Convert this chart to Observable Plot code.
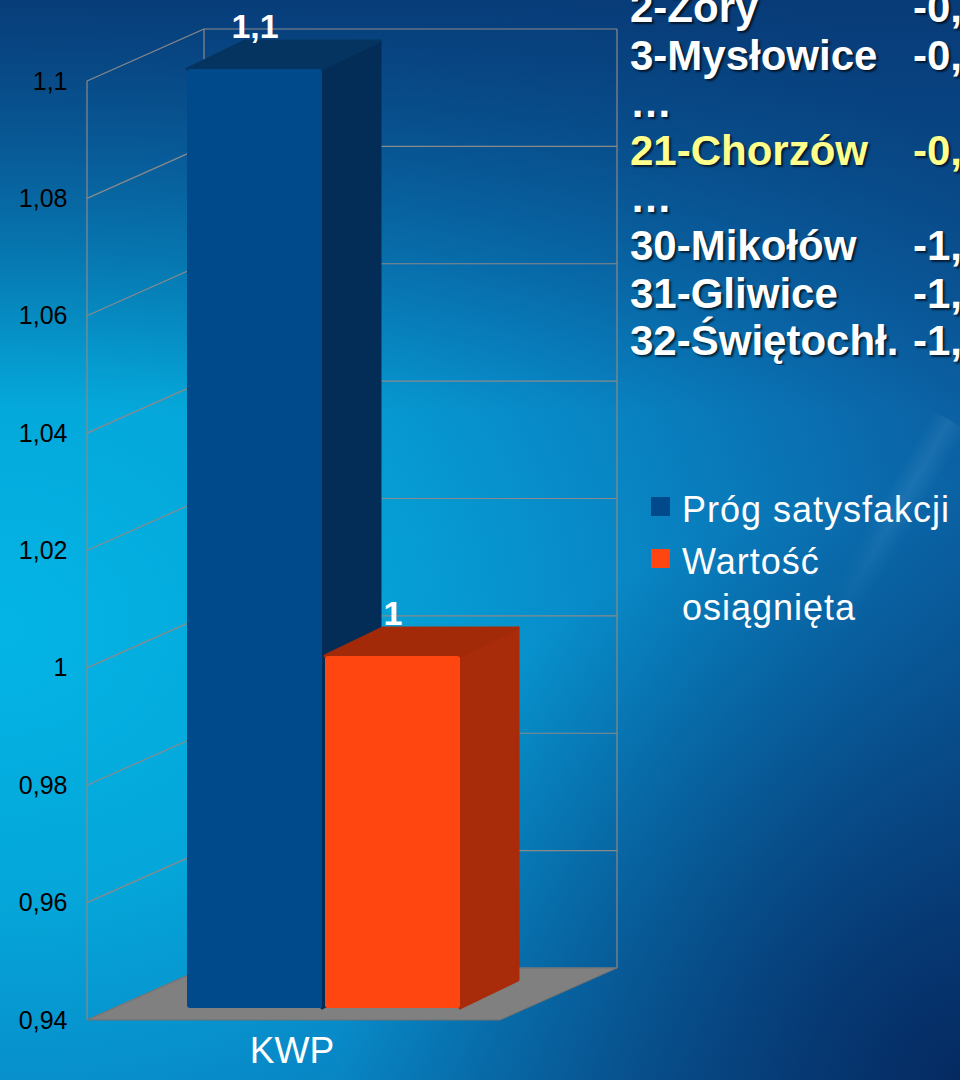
<!DOCTYPE html>
<html>
<head>
<meta charset="utf-8">
<script src="https://cdn.jsdelivr.net/npm/d3@7"></script>
<script src="https://cdn.jsdelivr.net/npm/@observablehq/plot@0.6"></script>
<style>
  html, body { margin: 0; padding: 0; }
  body {
    width: 960px; height: 1080px; overflow: hidden; position: relative;
    font-family: "Liberation Sans", Arial, sans-serif;
    background:
      radial-gradient(ellipse 65% 55% at 100% 100%, rgba(4,34,88,0.85) 0%, rgba(4,34,88,0) 100%),
      linear-gradient(to bottom, rgba(7,58,118,0.95) 0%, rgba(7,58,118,0) 38%),
      radial-gradient(ellipse 115% 85% at 0% 58%, #03b5e5 0%, #05a6d9 30%, #0889c7 55%, #0a6bad 80%, #0b5698 100%);
    background-color: #0b5698;
  }
  #streak {
    position: absolute; left: 820px; top: 420px; width: 40px; height: 260px;
    background: linear-gradient(to right, rgba(170,220,255,0) 0%, rgba(170,220,255,0.10) 50%, rgba(170,220,255,0) 100%);
    transform: rotate(30deg); transform-origin: 50% 0%; left: 930px;
    -webkit-mask-image: linear-gradient(to bottom, #000 0%, #000 40%, transparent 100%);
    mask-image: linear-gradient(to bottom, #000 0%, #000 40%, transparent 100%);
  }
  #chart { position: absolute; left: 0; top: 0; }
  #ranking {
    position: absolute; left: 630px; top: -16px; width: 330px; overflow: hidden;
    font: bold 42px/47.6px "Liberation Sans", Arial, sans-serif; color: #fff;
    text-shadow: 2px 2px 2px rgba(0,0,0,0.65); white-space: nowrap;
  }
  #ranking .row { position: relative; height: 47.6px; }
  #ranking .val { position: absolute; left: 283px; top: 0; }
  #ranking .hl { color: #ffff8c; }
  #legend {
    position: absolute; left: 651px; top: 487px; color: #fff;
    font: 36px/46px "Liberation Sans", Arial, sans-serif; letter-spacing: 1px;
  }
  #legend .item { position: relative; padding-left: 31px; margin-bottom: 6px; }
  #legend .sw { position: absolute; left: 0; top: 10px; width: 19px; height: 19px; }
</style>
</head>
<body>
<div id="streak"></div>
<div id="chart"></div>
<div id="ranking"></div>
<div id="legend"></div>
<script>
// ---- data ----
const category = "KWP";
const series = ["Próg satysfakcji", "Wartość osiągnięta"];
const values = [1.1, 1.0];
const valueLabels = ["1,1", "1"];
const seriesColors = ["#004a8c", "#ff4611"];
const yTicks = [0.94, 0.96, 0.98, 1.0, 1.02, 1.04, 1.06, 1.08, 1.1];
const rankNames = ["2-Żory", "3-Mysłowice", "…", "21-Chorzów", "…", "30-Mikołów", "31-Gliwice", "32-Świętochł."];
const rankValues = ["-0,", "-0,", "", "-0,", "", "-1,", "-1,", "-1,"];
const highlighted = "21-Chorzów";

// ---- styling / geometry constants ----
const topColors = ["#04345f", "#a32a09"];
const sideColors = ["#032d57", "#a82b0a"];
const wallDepth = {dx: 117, dy: -52};
const barOffset = {dx: 27, dy: -12};
const barDepth = {dx: 58, dy: -28};
const yDomain = [0.94, 1.1];

const data = series.map((s, i) => ({series: s, value: values[i], label: valueLabels[i], i}));
const fmt = d => String(+d.toFixed(2)).replace(".", ",");

function walls(index, scales, vals, dim) {
  const g = d3.create("svg:g");
  const x0 = dim.marginLeft, x1 = dim.width - dim.marginRight;
  const yb = scales.y(yDomain[0]), yt = scales.y(yDomain[1]);
  const D = wallDepth;
  const line = (a, b, c, d) => g.append("line").attr("x1", a).attr("y1", b).attr("x2", c).attr("y2", d)
      .attr("stroke", "#8a8a8a").attr("stroke-width", 1.2);
  for (const t of yTicks) {
    const y = scales.y(t);
    line(x0, y, x0 + D.dx, y + D.dy);
    line(x0 + D.dx, y + D.dy, x1 + D.dx, y + D.dy);
  }
  line(x0, yt, x0, yb);
  line(x0 + D.dx, yt + D.dy, x0 + D.dx, yb + D.dy);
  line(x1 + D.dx, yt + D.dy, x1 + D.dx, yb + D.dy);
  g.append("path")
    .attr("d", `M${x0},${yb}L${x1},${yb}L${x1 + D.dx},${yb + D.dy}L${x0 + D.dx},${yb + D.dy}Z`)
    .attr("fill", "#808080").attr("stroke", "#707070");
  return g.node();
}

function bars3d(index, scales, vals, dim) {
  const g = d3.create("svg:g");
  const bw = typeof scales.x.bandwidth === "function" ? scales.x.bandwidth() : 135;
  const B = barOffset, S = barDepth;
  data.forEach(d => {
    const xl = scales.x(d.series) + B.dx, xr = xl + bw;
    const yt = scales.y(d.value) + B.dy, yb = scales.y(yDomain[0]) + B.dy;
    g.append("path")
      .attr("d", `M${xr},${yt}L${xr + S.dx},${yt + S.dy}L${xr + S.dx},${yb + S.dy}L${xr},${yb}Z`)
      .attr("fill", sideColors[d.i]).attr("stroke", sideColors[d.i]).attr("stroke-linejoin", "round").attr("stroke-width", 3);
    g.append("path")
      .attr("d", `M${xl},${yt}L${xl + S.dx},${yt + S.dy}L${xr + S.dx},${yt + S.dy}L${xr},${yt}Z`)
      .attr("fill", topColors[d.i]).attr("stroke", topColors[d.i]).attr("stroke-linejoin", "round").attr("stroke-width", 3);
  });
  return g.node();
}

const chart = Plot.plot({
  width: 960,
  height: 1080,
  marginLeft: 87,
  marginRight: 460,
  marginTop: 81,
  marginBottom: 60,
  style: {background: "transparent", color: "black", fontFamily: "Liberation Sans, Arial, sans-serif", overflow: "visible"},
  x: {type: "band", domain: series, range: [160, 434], paddingInner: 0.02, paddingOuter: 0, axis: null},
  y: {domain: yDomain, axis: null},
  marks: [
    walls,
    Plot.axisY({ticks: yTicks, tickFormat: fmt, tickSize: 0, tickPadding: 20, fontSize: 25, fill: "black", label: null}),
    bars3d,
    Plot.barY(data, {x: "series", y1: yDomain[0], y2: "value", fill: d => seriesColors[d.i], dx: barOffset.dx, dy: barOffset.dy, rx: 3, inset: 0}),
    Plot.text(data, {x: "series", y: "value", text: "label", dx: barOffset.dx, dy: barOffset.dy - 42, fill: "white", fontSize: 34, fontWeight: "bold"}),
    Plot.text([category], {frameAnchor: "bottom", text: d => d, dy: 42, dx: -2, fill: "white", fontSize: 37})
  ]
});
document.getElementById("chart").appendChild(chart);

// ranking block
const rk = d3.select("#ranking");
rankNames.forEach((n, i) => {
  const row = rk.append("div").attr("class", "row" + (n === highlighted ? " hl" : ""));
  row.append("span").text(n);
  row.append("span").attr("class", "val").text(rankValues[i]);
});

// legend
const lg = d3.select("#legend");
const legendLabels = ["Próg satysfakcji", "Wartość\nosiągnięta"];
series.forEach((s, i) => {
  const it = lg.append("div").attr("class", "item");
  it.append("div").attr("class", "sw").style("background", seriesColors[i]);
  legendLabels[i].split("\n").forEach(t => it.append("div").text(t));
});
</script>
</body>
</html>
